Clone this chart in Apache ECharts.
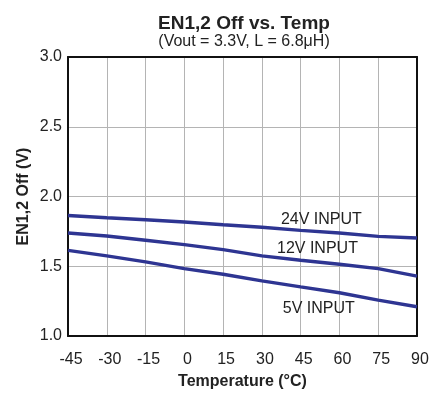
<!DOCTYPE html>
<html>
<head>
<meta charset="utf-8">
<script src="https://cdn.jsdelivr.net/npm/echarts@6/dist/echarts.min.js"></script>
<style>
  html, body { margin: 0; padding: 0; background: #fff; }
  #chart { width: 439px; height: 397px; }
</style>
</head>
<body>
<div id="chart"></div>
<script>
// Temperature sweep (°C)
var temps = [-45, -30, -15, 0, 15, 30, 45, 60, 75, 90];

// EN1,2 off threshold (V) for each input voltage
var v24 = [1.864, 1.848, 1.833, 1.817, 1.798, 1.780, 1.757, 1.738, 1.714, 1.702];
var v12 = [1.738, 1.717, 1.686, 1.655, 1.619, 1.574, 1.543, 1.514, 1.483, 1.429];
var v5  = [1.614, 1.574, 1.531, 1.483, 1.443, 1.395, 1.352, 1.310, 1.257, 1.210];

var seriesNames = ['24V INPUT', '12V INPUT', '5V INPUT'];
// where each curve's name is written: [temperature, voltage]
var labelAt = [[53, 1.834], [51.5, 1.626], [52, 1.198]];

var FONT = 'Liberation Sans, Arial, sans-serif';
var TXT = '#222';
var LINE = '#2e3592';

function pairs(ys) {
  return temps.map(function (t, i) { return [t, ys[i]]; });
}

function curve(name, ys, at) {
  return {
    name: name,
    type: 'line',
    data: pairs(ys),
    showSymbol: false,
    smooth: false,
    lineStyle: { color: LINE, width: 3.4 },
    z: 5,
    markPoint: {
      symbol: 'circle',
      symbolSize: 1,
      silent: true,
      itemStyle: { color: 'rgba(0,0,0,0)' },
      data: [{ coord: at, value: name }],
      label: {
        show: true,
        formatter: name,
        color: TXT,
        fontFamily: FONT,
        fontSize: 16,
        position: 'inside'
      }
    }
  };
}

var chart = echarts.init(document.getElementById('chart'), null, { renderer: 'canvas' });

chart.setOption({
  animation: false,
  backgroundColor: '#fff',
  title: {
    text: 'EN1,2 Off vs. Temp',
    subtext: '(Vout = 3.3V, L = 6.8\u03bcH)',
    left: 239,
    textAlign: 'center',
    top: 9,
    itemGap: 1,
    textStyle: { fontFamily: FONT, fontSize: 19, fontWeight: 'bold', color: TXT },
    subtextStyle: { fontFamily: FONT, fontSize: 16, color: TXT }
  },
  grid: { left: 68, right: 22, top: 57, bottom: 61, containLabel: false },
  xAxis: [{
    type: 'value',
    min: -45, max: 90, interval: 15,
    name: 'Temperature (\u00b0C)',
    nameLocation: 'middle',
    nameGap: 38,
    nameMoveOverlap: false,
    nameTextStyle: { fontFamily: FONT, fontSize: 16, fontWeight: 'bold', color: TXT },
    axisLine: { show: true, onZero: false, lineStyle: { color: '#111', width: 2 } },
    axisTick: { show: false },
    axisLabel: { fontFamily: FONT, fontSize: 16, color: TXT, margin: 16, padding: [0, 0, 0, 6] },
    splitLine: { show: true, lineStyle: { color: '#b4b4b4', width: 1 } }
  }, {
    type: 'value', position: 'top',
    min: -45, max: 90, interval: 15,
    axisLine: { show: true, onZero: false, lineStyle: { color: '#111', width: 2 } },
    axisTick: { show: false }, axisLabel: { show: false }, splitLine: { show: false }
  }],
  yAxis: [{
    type: 'value',
    min: 1.0, max: 3.0, interval: 0.5,
    name: 'EN1,2 Off (V)',
    nameLocation: 'middle',
    nameGap: 36,
    nameMoveOverlap: false,
    nameTextStyle: { fontFamily: FONT, fontSize: 16, fontWeight: 'bold', color: TXT },
    axisLine: { show: true, onZero: false, lineStyle: { color: '#111', width: 2 } },
    axisTick: { show: false },
    axisLabel: { fontFamily: FONT, fontSize: 16, color: TXT, margin: 6,
      formatter: function (v) { return v.toFixed(1); } },
    splitLine: { show: true, lineStyle: { color: '#b4b4b4', width: 1 } }
  }, {
    type: 'value', position: 'right',
    min: 1.0, max: 3.0, interval: 0.5,
    axisLine: { show: true, onZero: false, lineStyle: { color: '#111', width: 2 } },
    axisTick: { show: false }, axisLabel: { show: false }, splitLine: { show: false }
  }],
  series: [
    curve(seriesNames[0], v24, labelAt[0]),
    curve(seriesNames[1], v12, labelAt[1]),
    curve(seriesNames[2], v5, labelAt[2])
  ]
});
</script>
</body>
</html>
